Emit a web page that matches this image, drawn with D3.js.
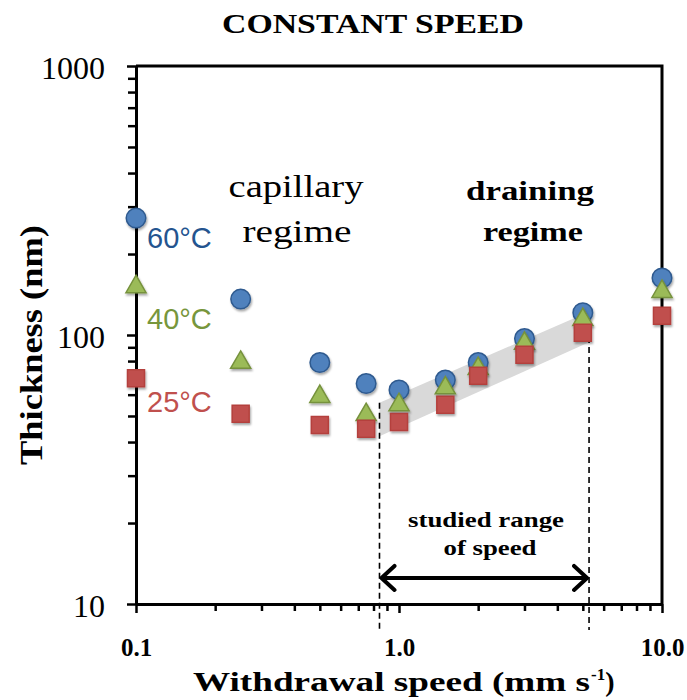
<!DOCTYPE html>
<html>
<head>
<meta charset="utf-8">
<script src="https://cdn.jsdelivr.net/npm/d3@7"></script>
<style>
  body { margin: 0; background: #fff; }
</style>
</head>
<body>
<svg id="chart" width="687" height="700" font-family="'Liberation Serif', 'Times New Roman', serif"></svg>
<script>
// withdrawal speed (mm/s) and film thickness (nm) per temperature
var speeds = [0.1, 0.25, 0.5, 0.75, 1.0, 1.5, 2.0, 3.0, 5.0, 10.0];
var t60 = [272, 136, 79, 66, 62.5, 68, 79, 97, 121, 163];
var t40 = [151, 79, 59, 50.5, 55, 63.5, 75, 93, 114, 145];
var t25 = [69, 51, 46.3, 44.8, 47.5, 55, 70.5, 84.5, 102, 118];

var seriesNames = ["60°C", "40°C", "25°C"];
var xTickLabels = ["0.1", "1.0", "10.0"];
var yTickValues = [10, 100, 1000];

// studied range of speed + the grey band
var rangeLimits = [0.843, 5.28];
var bandTop = [56, 122];
var bandBottom = [42, 94];

var serif = "'Liberation Serif', 'Times New Roman', serif";
var sans = "'Liberation Sans', Arial, sans-serif";

var svg = d3.select("#chart");
var margin = {left: 136, right: 25, top: 66, bottom: 96};
var W = +svg.attr("width"), H = +svg.attr("height");

var x = d3.scaleLog().domain([0.1, 10]).range([margin.left, W - margin.right]);
var y = d3.scaleLog().domain([10, 1000]).range([H - margin.bottom, margin.top]);

var defs = svg.append("defs");
var f = defs.append("filter").attr("id", "shadow")
  .attr("x", "-50%").attr("y", "-50%").attr("width", "200%").attr("height", "200%");
f.append("feDropShadow").attr("dx", 1).attr("dy", 2).attr("stdDeviation", 1.3)
  .attr("flood-color", "#000").attr("flood-opacity", 0.35);

// title
svg.append("text")
  .attr("x", 373).attr("y", 33)
  .attr("text-anchor", "middle")
  .attr("font-size", "28px").attr("font-weight", "bold")
  .attr("textLength", 302).attr("lengthAdjust", "spacingAndGlyphs")
  .text("CONSTANT SPEED");

// grey band
var bandPts = [[rangeLimits[0], bandTop[0]], [rangeLimits[1], bandTop[1]],
               [rangeLimits[1], bandBottom[1]], [rangeLimits[0], bandBottom[0]]];
svg.append("path")
  .attr("d", d3.line().x(function(d) { return x(d[0]); }).y(function(d) { return y(d[1]); })(bandPts) + "Z")
  .attr("fill", "#d9d9d9");

// dashed limits
var dashBottom = 8;
rangeLimits.forEach(function(v, i) {
  svg.append("line")
    .attr("x1", x(v)).attr("x2", x(v))
    .attr("y1", y(bandTop[i] + (i ? 5 : 0))).attr("y2", y(dashBottom))
    .attr("stroke", "#000").attr("stroke-width", 1.6)
    .attr("stroke-dasharray", "6,4");
});

// border (top and right)
svg.append("path")
  .attr("d", "M" + x(0.1) + "," + y(1000) + "H" + x(10) + "V" + y(10))
  .attr("fill", "none").attr("stroke", "#000").attr("stroke-width", 3);

// axes
function minorTicks(lo, hi) {
  var out = [];
  for (var d = lo; d < hi; d *= 10)
    for (var k = 2; k <= 9; k++) out.push(+(k * d).toPrecision(3));
  return out;
}

var yMinor = svg.append("g").attr("transform", "translate(" + margin.left + ",0)")
  .call(d3.axisLeft(y).tickValues(minorTicks(10, 1000)).tickFormat("").tickSize(8).tickSizeOuter(0));
var yMajor = svg.append("g").attr("transform", "translate(" + margin.left + ",0)")
  .call(d3.axisLeft(y).tickValues(yTickValues).tickFormat(d3.format("d")).tickSize(9).tickPadding(22).tickSizeOuter(0));
yMajor.selectAll("text").attr("font-size", "32px").attr("dy", "0.38em");

var xMinor = svg.append("g").attr("transform", "translate(0," + (H - margin.bottom) + ")")
  .call(d3.axisBottom(x).tickValues(minorTicks(0.1, 10)).tickFormat("").tickSize(7).tickSizeOuter(0));
var xMajor = svg.append("g").attr("transform", "translate(0," + (H - margin.bottom) + ")")
  .call(d3.axisBottom(x).tickValues([0.1, 1, 10]).tickFormat(function(d, i) { return xTickLabels[i]; })
    .tickSize(9).tickPadding(26).tickSizeOuter(0));
xMajor.selectAll("text").attr("font-size", "25px").attr("font-weight", "bold").attr("dy", "0.68em");

[yMinor, yMajor, xMinor, xMajor].forEach(function(g) {
  g.attr("font-family", serif);
  g.select(".domain").attr("stroke-width", 3);
  g.selectAll(".tick line").attr("stroke-width", 2.5);
});

// axis titles
svg.append("text")
  .attr("transform", "translate(42,345) rotate(-90)")
  .attr("text-anchor", "middle")
  .attr("font-size", "31px").attr("font-weight", "bold")
  .attr("textLength", 240).attr("lengthAdjust", "spacingAndGlyphs")
  .text("Thickness (nm)");

var xt = svg.append("text")
  .attr("x", 193).attr("y", 691)
  .attr("font-size", "28px").attr("font-weight", "bold");
xt.append("tspan").attr("textLength", 397).attr("lengthAdjust", "spacingAndGlyphs")
  .text("Withdrawal speed (mm s");
xt.append("tspan").attr("font-size", "17px").attr("dy", -11).attr("dx", 1).text("-1");
xt.append("tspan").attr("dy", 11).text(")");

// regime labels
function label(txt, cx, by, size, weight, len) {
  svg.append("text").attr("x", cx).attr("y", by)
    .attr("text-anchor", "middle").attr("font-size", size).attr("font-weight", weight)
    .attr("textLength", len).attr("lengthAdjust", "spacingAndGlyphs")
    .text(txt);
}
label("capillary", 296, 197, "31px", "normal", 135);
label("regime", 297, 242, "31px", "normal", 109);
label("draining", 530, 200, "28px", "bold", 128);
label("regime", 533, 241, "28px", "bold", 100);
label("studied range", 486, 527, "21px", "bold", 156);
label("of speed", 490, 555, "21px", "bold", 93);

// double arrow
var ay = y(12.5), ax1 = x(rangeLimits[0]) + 2, ax2 = x(rangeLimits[1]) - 2;
svg.append("path")
  .attr("d", "M" + ax1 + "," + ay + "H" + ax2 +
    "M" + (ax1 + 13) + "," + (ay - 12) + "L" + ax1 + "," + ay + "L" + (ax1 + 13) + "," + (ay + 12) +
    "M" + (ax2 - 13) + "," + (ay - 12) + "L" + ax2 + "," + ay + "L" + (ax2 - 13) + "," + (ay + 12))
  .attr("fill", "none").attr("stroke", "#000").attr("stroke-width", 4)
  .attr("stroke-linecap", "round").attr("stroke-linejoin", "round");

// markers
var series = [
  {vals: t25, shape: d3.symbolSquare, size: 289, fill: "#C0504D", stroke: "#B4403D"},
  {vals: t40, shape: d3.symbolTriangle, size: 175, fill: "#9BBB59", stroke: "#76923C"},
  {vals: t60, shape: d3.symbolCircle, size: 300, fill: "#4F81BD", stroke: "#2F5A8F"}
];
// circles first so triangles and squares sit on top like in the original
[series[2], series[1], series[0]].forEach(function(s) {
  svg.append("g").selectAll("path")
    .data(speeds.map(function(v, i) { return [v, s.vals[i]]; }))
    .join("path")
    .attr("transform", function(d) { return "translate(" + x(d[0]) + "," + y(d[1]) + ")"; })
    .attr("d", d3.symbol().type(s.shape).size(s.size))
    .attr("fill", s.fill).attr("stroke", s.stroke).attr("stroke-width", 1.5)
    .attr("filter", "url(#shadow)");
});

// series labels
var labelColors = ["#24548F", "#77963C", "#C0504D"];
var labelBase = [248, 329, 412];
seriesNames.forEach(function(n, i) {
  svg.append("text").attr("x", 147).attr("y", labelBase[i])
    .attr("font-family", sans)
    .attr("font-size", "29px").attr("fill", labelColors[i])
    .text(n);
});
</script>
</body>
</html>
